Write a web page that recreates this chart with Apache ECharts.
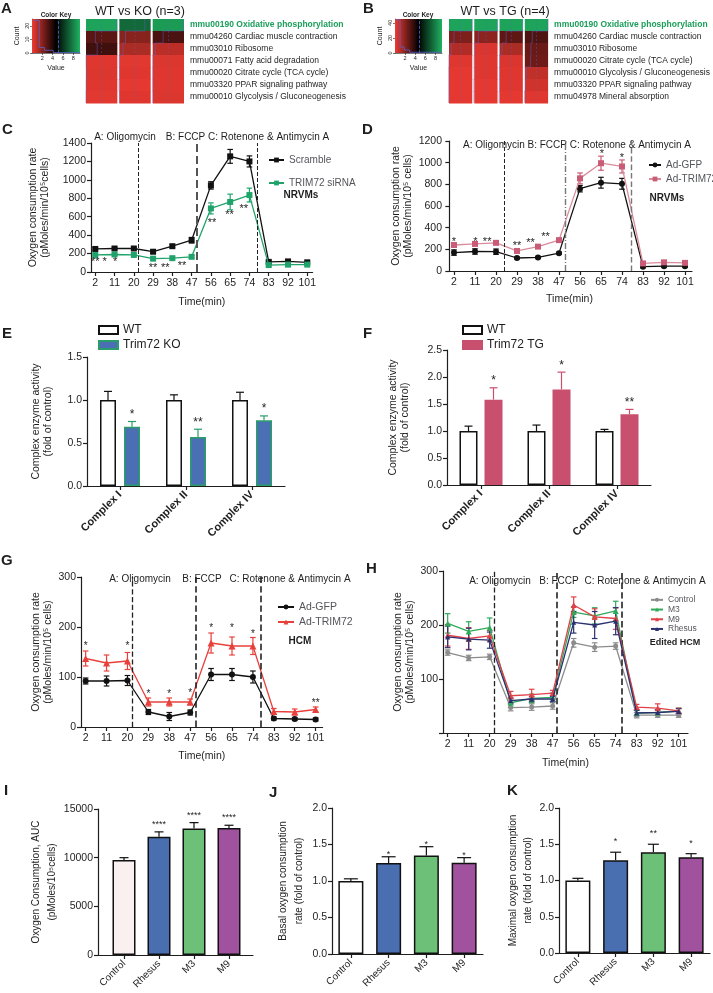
<!DOCTYPE html>
<html><head><meta charset="utf-8">
<script src="https://cdn.jsdelivr.net/npm/echarts@6.0.0/dist/echarts.min.js"></script>
<style>html,body{margin:0;padding:0;background:#fff}#c{width:713px;height:993px}</style>
</head><body><div id="c"></div>
<script>
const FF = '"Liberation Sans", Arial, Helvetica, sans-serif';
// ================= DATA =================
const koPathways = ['mmu00190 Oxidative phosphorylation','mmu04260 Cardiac muscle contraction','mmu03010 Ribosome','mmu00071 Fatty acid degradation','mmu00020 Citrate cycle (TCA cycle)','mmu03320 PPAR signaling pathway','mmu00010 Glycolysis / Gluconeogenesis'];
const koHeat = [[8.9,7.4,8.7],[2.9,2.0,3.2],[3.4,1.3,1.0],[0.3,0.25,0.35],[0.35,0.3,0.3],[0.3,0.2,0.3],[0.25,0.3,0.35]];
const koKeyHist = [[0.3,24],[1.4,24],[1.4,4],[2.4,4],[2.4,2],[4.1,2],[4.1,0.3],[9.3,0.3]];
const tgPathways = ['mmu00190 Oxidative phosphorylation','mmu04260 Cardiac muscle contraction','mmu03010 Ribosome','mmu00020 Citrate cycle (TCA cycle)','mmu00010 Glycolysis / Gluconeogenesis','mmu03320 PPAR signaling pathway','mmu04978 Mineral absorption'];
const tgHeat = [[8.9,8.9,8.9,8.9],[2.2,1.9,2.8,3.1],[1.2,0.4,1.3,2.6],[0.3,0.3,0.4,2.5],[0.2,0.3,0.3,0.9],[0.2,0.2,0.3,0.6],[0.2,0.2,0.2,0.3]];
const tgKeyHist = [[0.2,44],[1.0,44],[1.0,8],[1.8,8],[1.8,4],[2.9,4],[2.9,1],[9.3,1]];

const times = [2,11,20,29,38,47,56,65,74,83,92,101];
// C
const cScramble    = [250,255,255,220,280,345,940,1255,1200,110,115,105];
const cScrambleErr = [15,15,15,10,15,30,40,75,60,15,10,10];
const cSiRNA       = [185,190,185,145,150,165,690,760,835,75,80,80];
const cSiRNAErr    = [10,10,10,10,10,15,60,85,75,10,10,10];
const cInjections  = [22.2,49.2,77.7];
const cStars = [[2,145,'**'],[6.4,145,'*'],[11.3,145,'*'],[29,72,'**'],[34.7,72,'**'],[42.5,101,'**'],[56.5,568,'**'],[64.7,651,'**'],[71.3,712,'**']];
// D
const dGFP      = [170,180,178,120,125,165,760,815,805,40,45,45];
const dGFPErr   = [25,25,25,10,10,10,30,50,50,10,10,10];
const dTRIM     = [240,250,260,185,225,285,855,995,965,70,80,75];
const dTRIMErr  = [20,15,15,10,10,15,50,65,60,10,10,10];
const dInjections = [23.4,49.6,77.9];
const dStars = [[1.9,300,'*'],[11.2,300,'*'],[16.2,300,'**'],[29,255,'**'],[34.8,285,'**'],[41.2,340,'**'],[65.4,1108,'*'],[74,1068,'*']];
// E
const complexes = ['Complex I','Complex II','Complex IV'];
const eWT = [1,1,1], eWTErr = [0.10,0.06,0.09];
const eKO = [0.69,0.57,0.765], eKOErr = [0.06,0.09,0.05];
const eSig = ['*','**','*'];
// F
const fWT = [1,1,1], fWTErr = [0.09,0.11,0.03];
const fTG = [1.58,1.77,1.31], fTGErr = [0.22,0.32,0.09];
const fSig = ['*','*','**'];
// G
const gGFP     = [92,92,93,30,21,29,105,105,100,17,16,15];
const gGFPErr  = [6,10,10,5,8,5,12,12,12,3,3,3];
const gTRIM    = [137,128,132,50,50,50,168,162,162,31,30,35];
const gTRIMErr = [15,16,17,8,8,6,20,18,17,6,6,5];
const gInjections = [22.2,49.4,77.3];
const gStars = [[2,167,'*'],[20,167,'*'],[29,70,'*'],[38,70,'*'],[47,73,'*'],[56,203,'*'],[65,203,'*'],[74,190,'*'],[101,53,'**']];
// H
const hControl = [149,139,141,47,48,50,167,159,161,33,33,33];
const hControlErr = [5,5,5,6,6,6,8,8,6,5,4,4];
const hM3 = [203,188,195,56,64,66,224,217,226,37,38,41];
const hM3Err = [18,18,18,8,8,8,10,15,18,5,5,5];
const hM9 = [181,175,180,69,71,74,237,215,212,48,46,41];
const hM9Err = [20,20,10,8,10,5,15,15,20,5,8,5];
const hRhesus = [178,174,172,60,63,63,205,200,207,37,38,40];
const hRhesusErr = [20,20,15,5,5,5,20,25,25,5,5,5];
const hInjections = [22.1,48.7,76.6];
// I J K
const groups = ['Control','Rhesus','M3','M9'];
const iAUC = [9750,12150,13000,13050], iErr = [250,500,600,280], iSig = ['','****','****','****'];
const jBasal = [1.0,1.247,1.35,1.25], jErr = [0.03,0.085,0.12,0.07], jSig = ['','*','*','*'];
const kMax = [1.0,1.28,1.39,1.32], kErr = [0.03,0.11,0.11,0.05], kSig = ['','*','**','*'];

// ================= HELPERS =================
function merge(a,b){const o=Object.assign({},a);for(const k in b){const bv=b[k],av=a?a[k]:undefined;if(bv&&typeof bv==='object'&&!Array.isArray(bv)&&av&&typeof av==='object'&&!Array.isArray(av)&&bv.constructor===Object)o[k]=merge(av,bv);else o[k]=bv;}return o;}
const INK = '#1e1e1e';
const AX = {
  axisLine:{show:true,lineStyle:{color:INK,width:1.2}},
  axisTick:{show:true,length:4,lineStyle:{color:INK,width:1.2}},
  axisLabel:{color:INK,fontSize:10,fontFamily:FF,margin:5},
  splitLine:{show:false},
  nameTextStyle:{color:INK,fontSize:10.5,fontFamily:FF,lineHeight:12}
};
const axis = o => merge(AX,o);
const grids=[],xAxes=[],yAxes=[],series=[],legends=[],graphics=[];
const G=o=>(grids.push(o),grids.length-1);
const X=o=>(xAxes.push(o),xAxes.length-1);
const Y=o=>(yAxes.push(o),yAxes.length-1);
const S=o=>(series.push(o),series.length-1);
function txt(t,x,y,o){graphics.push({type:'text',x,y,silent:true,style:Object.assign({text:t,fontSize:10,fontFamily:FF,fill:INK,align:'center',verticalAlign:'middle'},o||{})});}

function errRender(color,cap,offset,both,labels,fs,gap){
  return function(params,api){
    const x=api.value(0),lo=api.value(1),hi=api.value(2);
    const a=api.coord([x,lo]),b=api.coord([x,hi]);
    const cx=a[0]+(offset||0);
    const st={stroke:color,lineWidth:1.2};
    const ch=[{type:'line',shape:{x1:cx,y1:a[1],x2:cx,y2:b[1]},style:st},
              {type:'line',shape:{x1:cx-cap,y1:b[1],x2:cx+cap,y2:b[1]},style:st}];
    if(both) ch.push({type:'line',shape:{x1:cx-cap,y1:a[1],x2:cx+cap,y2:a[1]},style:st});
    const lab=labels?labels[params.dataIndex]:'';
    if(lab) ch.push({type:'text',x:cx,y:b[1]-gap+0.27*fs,style:{text:lab,fontSize:fs,fontFamily:FF,fill:INK,align:'center',verticalAlign:'middle'}});
    return {type:'group',children:ch};
  };
}
function starRender(labels,fs){
  return function(params,api){
    const p=api.coord([api.value(0),api.value(1)]);
    return {type:'text',x:p[0],y:p[1]+0.27*fs,style:{text:labels[params.dataIndex],fontSize:fs,fontFamily:FF,fill:INK,align:'center',verticalAlign:'middle'}};
  };
}
const legendFmt = n => n.split('|')[1];

// ---------- heatmap panels ----------
const VMAX=9.3;
const heatColors=['#ee3b33','#000000','#20b262'];
const heatIdx=[];
function heatRender(mat){
  return function(params,api){
    const c=api.value(0),r=api.value(1),v=api.value(2);
    const ctr=api.coord([c,r]),sz=api.size([1,1]);
    const x0=ctr[0]-sz[0]/2,y0=ctr[1]-sz[1]/2,w=sz[0],h=sz[1];
    const tx=x0+v/VMAX*w;
    const px=r>0?x0+mat[r-1][c]/VMAX*w:tx;
    const tr='#5a62cc';
    return {type:'group',children:[
      {type:'rect',shape:{x:x0+1,y:y0,width:w-2,height:h+0.5},style:{fill:api.visual('color')}},
      {type:'line',shape:{x1:ctr[0],y1:y0,x2:ctr[0],y2:y0+h},style:{stroke:tr,lineWidth:0.6,lineDash:[2,2],opacity:0.6}},
      {type:'polyline',shape:{points:[[px,y0],[tx,y0],[tx,y0+h]]},style:{stroke:tr,lineWidth:0.7,fill:null,opacity:0.65}}
    ]};
  };
}
function heatPanel(p){
  const kg=G({left:p.key[0],top:p.key[1],width:p.key[2],height:p.key[3]});
  const kx=X(axis({type:'value',gridIndex:kg,min:0,max:VMAX,interval:2,axisLine:{lineStyle:{width:0.6}},axisTick:{length:2,lineStyle:{width:0.6}},axisLabel:{fontSize:5.5,margin:2,showMinLabel:false,showMaxLabel:false},name:'Value',nameLocation:'middle',nameGap:8,nameTextStyle:{fontSize:7}}));
  const ky=Y(axis({type:'value',gridIndex:kg,min:0,max:p.keyMax,interval:p.keyInt,axisLine:{lineStyle:{width:0.6}},axisTick:{length:2,lineStyle:{width:0.6}},axisLabel:{fontSize:5.5,margin:2,rotate:90,showMaxLabel:false},name:'Count',nameLocation:'middle',nameRotate:90,nameGap:9,nameTextStyle:{fontSize:7}}));
  S({type:'line',xAxisIndex:kx,yAxisIndex:ky,data:[[0,p.keyMax],[VMAX,p.keyMax]],symbol:'none',silent:true,lineStyle:{width:0},
     areaStyle:{opacity:1,color:new echarts.graphic.LinearGradient(0,0,1,0,[{offset:0,color:heatColors[0]},{offset:0.5,color:heatColors[1]},{offset:1,color:heatColors[2]}])}});
  S({type:'line',xAxisIndex:kx,yAxisIndex:ky,data:p.hist,symbol:'none',silent:true,lineStyle:{color:'#5a62cc',width:0.8},
     markLine:{silent:true,symbol:['none','none'],label:{show:false},lineStyle:{color:'#5a62cc',type:'dashed',width:0.8},data:[{xAxis:p.keyMean}]}});
  const hg=G({left:p.heat[0],top:p.heat[1],width:p.heat[2],height:p.heat[3]});
  const cols=p.mat[0].map((_,i)=>'S'+(i+1));
  const hx=X({type:'category',gridIndex:hg,data:cols,show:false});
  const hy=Y({type:'category',gridIndex:hg,data:p.rows,inverse:true,position:'right',axisLine:{show:false},axisTick:{show:false},
    axisLabel:{color:INK,fontSize:8.5,fontFamily:FF,margin:5,formatter:(v,i)=>i===0?'{g|'+v+'}':v,rich:{g:{color:'#1a9e5a',fontWeight:'bold',fontSize:8.5,fontFamily:FF}}}});
  const data=[];p.mat.forEach((row,r)=>row.forEach((v,c)=>data.push([c,r,v])));
  heatIdx.push(S({type:'custom',xAxisIndex:hx,yAxisIndex:hy,data,encode:{x:0,y:1},renderItem:heatRender(p.mat),silent:true}));
}
heatPanel({key:[32,19,48,34],keyMax:25,keyInt:10,keyMean:5.0,hist:koKeyHist,heat:[85,19,100,84],mat:koHeat,rows:koPathways});
heatPanel({key:[395,19,47,34],keyMax:45,keyInt:20,keyMean:4.8,hist:tgKeyHist,heat:[448,19,104,84],mat:tgHeat,rows:tgPathways});

// ---------- time course panels ----------
function timePanel(p){
  const gi=G(p.grid);
  const xi=X(axis({type:'value',gridIndex:gi,min:p.xmin,max:p.xmax,axisTick:{customValues:times},axisLabel:{customValues:times,fontSize:10.5,margin:p.xMargin||6},name:'Time(min)',nameLocation:'middle',nameGap:p.xNameGap}));
  const yi=Y(axis({type:'value',gridIndex:gi,min:0,max:p.ymax,interval:p.yint,name:p.yName,nameLocation:'middle',nameRotate:90,nameGap:p.yNameGap,axisLabel:{fontSize:10.5,formatter:p.yFmt||(v=>String(v))}}));
  const names=[];
  p.lines.forEach((L,k)=>{
    names.push(L.name);
    S({type:'custom',xAxisIndex:xi,yAxisIndex:yi,data:times.map((t,i)=>[t,L.v[i]-L.e[i],L.v[i]+L.e[i]]),encode:{x:0,y:[1,2]},renderItem:errRender(L.ec||L.color,2.8,0,true),z:2,silent:true});
    S({type:'line',name:L.name,xAxisIndex:xi,yAxisIndex:yi,data:times.map((t,i)=>[t,L.v[i]]),symbol:L.sym,symbolSize:L.ss,
       itemStyle:{color:L.color},lineStyle:{color:L.lc||L.color,width:1.3},z:3+k,silent:true,
       markLine:k===0?{silent:true,symbol:['none','none'],label:{show:false},data:p.inj.map((v,i)=>({xAxis:v,lineStyle:Object.assign({type:'dashed',color:'#222',width:1},(p.injStyle||[])[i]||{})}))}:undefined});
  });
  if(p.stars) S({type:'custom',xAxisIndex:xi,yAxisIndex:yi,data:p.stars.map(s=>[s[0],s[1]]),encode:{x:0,y:1},renderItem:starRender(p.stars.map(s=>s[2]),p.starFs),clip:false,z:6,silent:true});
  legends.push(Object.assign({orient:'vertical',data:names,formatter:legendFmt,selectedMode:false,padding:0,textStyle:{color:INK,fontFamily:FF,fontSize:10}},p.legend));
}
const oxyName='Oxygen consumption rate\n(pMoles/min/10\u2075cells)';
timePanel({grid:{left:91,top:143,width:221.6,height:129},xmin:0,xmax:103.5,ymax:1400,yint:200,yName:oxyName,yNameGap:40,xNameGap:24,
  inj:cInjections,injStyle:[{},{width:2,color:'#555'},{}],stars:cStars,starFs:11,
  lines:[{name:'C|Scramble',v:cScramble,e:cScrambleErr,color:'#111',sym:'rect',ss:6},
         {name:'C|TRIM72 siRNA',v:cSiRNA,e:cSiRNAErr,color:'#1fa36b',sym:'rect',ss:6}],
  legend:{left:268,top:154,itemWidth:15,itemHeight:6,itemGap:11,textStyle:{fontSize:10,lineHeight:12}}});
timePanel({grid:{left:447,top:141,width:245,height:130},xmin:-1,xmax:104,ymax:1200,yint:200,yName:'Oxygen consumption rate\n(pMoles/min/10\u2075 cells)',yNameGap:33,xNameGap:22,
  inj:dInjections,injStyle:[{},{color:'#777',type:[6,2,1,2],width:1.4},{color:'#777',width:1.4}],stars:dStars,starFs:11,
  lines:[{name:'D|Ad-GFP',v:dGFP,e:dGFPErr,color:'#111',sym:'circle',ss:6},
         {name:'D|Ad-TRIM72',v:dTRIM,e:dTRIMErr,color:'#c95c77',lc:'#d98c9c',sym:'rect',ss:6}],
  legend:{left:648,top:159,itemWidth:12,itemHeight:6,itemGap:2,textStyle:{fontSize:10,lineHeight:12}}});
timePanel({grid:{left:81,top:577,width:241.6,height:150},xmin:0,xmax:104,ymax:300,yint:100,yName:'Oxygen consumption rate\n(pMoles/min/10\u2075 cells)',yNameGap:24,xNameGap:23,
  inj:gInjections,injStyle:[{width:1.3},{width:1.6},{width:1.6}],stars:gStars,starFs:10,
  lines:[{name:'G|Ad-GFP',v:gGFP,e:gGFPErr,color:'#111',sym:'circle',ss:6},
         {name:'G|Ad-TRIM72',v:gTRIM,e:gTRIMErr,color:'#e8413c',sym:'triangle',ss:7}],
  legend:{left:277,top:601,itemWidth:16,itemHeight:6,itemGap:3,textStyle:{fontSize:10.5,lineHeight:12}}});
timePanel({grid:{left:443,top:571,width:245,height:162},xmin:0,xmax:105,ymax:300,yint:100,yName:'Oxygen consumption rate\n(pMoles/min/10\u2075 cells)',yNameGap:27,xNameGap:24,
  yFmt:v=>v===0?'':String(v),inj:hInjections,injStyle:[{width:1.3},{width:1.6},{width:1.6}],
  lines:[{name:'H|Control',v:hControl,e:hControlErr,color:'#8c8c8c',sym:'circle',ss:5},
         {name:'H|M3',v:hM3,e:hM3Err,color:'#2fa95a',sym:'triangle',ss:6},
         {name:'H|M9',v:hM9,e:hM9Err,color:'#e04048',sym:'triangle',ss:6},
         {name:'H|Rhesus',v:hRhesus,e:hRhesusErr,color:'#2b3170',sym:'triangle',ss:5}],
  legend:{left:650,top:595,itemWidth:12,itemHeight:5,itemGap:0,textStyle:{fontSize:8.5,lineHeight:9.7}}});

// ---------- grouped bar panels ----------
function groupedPanel(p){
  const gi=G(p.grid);
  const xi=X(axis({type:'category',gridIndex:gi,data:complexes,axisTick:{alignWithLabel:true},axisLabel:{rotate:45,fontWeight:'bold',fontSize:11,margin:7}}));
  const yi=Y(axis({type:'value',gridIndex:gi,min:0,max:p.ymax,interval:0.5,name:'Complex enzyme activity\n(fold of control)',nameLocation:'middle',nameRotate:90,nameGap:p.yNameGap,axisLabel:{fontSize:10.5,formatter:v=>v.toFixed(1)}}));
  const names=[];
  p.bars.forEach((B,k)=>{
    names.push(B.name);
    S({type:'bar',name:B.name,xAxisIndex:xi,yAxisIndex:yi,data:B.v,barWidth:p.bw,barGap:p.gap,itemStyle:{color:B.color,borderColor:B.border,borderWidth:1.5},silent:true,z:2});
    S({type:'custom',xAxisIndex:xi,yAxisIndex:yi,data:B.v.map((v,i)=>[i,v,v+B.e[i]]),encode:{x:0,y:[1,2]},renderItem:errRender(B.ec,4,B.off,false,B.sig,12,10),clip:false,z:3,silent:true});
  });
  legends.push(Object.assign({orient:'vertical',data:names,formatter:legendFmt,selectedMode:false,padding:0,icon:'rect',itemWidth:19,itemHeight:8,itemGap:0,textStyle:{color:INK,fontFamily:FF,fontSize:12,lineHeight:15}},p.legend));
}
groupedPanel({grid:{left:87,top:357,width:198,height:129},ymax:1.5,yNameGap:33,bw:16,gap:'50%',
  bars:[{name:'E|WT',v:eWT,e:eWTErr,color:'#fff',border:'#111',ec:'#111',off:-12},
        {name:'E|Trim72 KO',v:eKO,e:eKOErr,color:'#4a6fb5',border:'#2a9d6a',ec:'#2a9d6a',off:12,sig:eSig}],
  legend:{left:98,top:322.5}});
groupedPanel({grid:{left:447,top:350,width:204,height:135},ymax:2.5,yNameGap:36,bw:18,gap:'39%',
  bars:[{name:'F|WT',v:fWT,e:fWTErr,color:'#fff',border:'#111',ec:'#111',off:-12.5},
        {name:'F|Trim72 TG',v:fTG,e:fTGErr,color:'#c8506e',border:'#c8506e',ec:'#c8506e',off:12.5,sig:fSig}],
  legend:{left:462,top:322.5}});

// ---------- I J K ----------
const barColorsI=['#fbf0f0','#4a6fb0','#6cc077','#a0529e'];
const barColorsJK=['#ffffff','#4a6fb0','#6cc077','#a0529e'];
function simpleBars(p){
  const gi=G(p.grid);
  let xi;
  if(p.valueX){
    xi=X(axis({type:'value',gridIndex:gi,min:p.xmin,max:p.xmax,axisTick:{customValues:[1,2,3,4]},axisLabel:{customValues:[1,2,3,4],rotate:45,fontSize:10,margin:7,formatter:v=>groups[Math.round(v)-1]}}));
  } else {
    xi=X(axis({type:'category',gridIndex:gi,data:groups,axisTick:{alignWithLabel:true},axisLabel:{rotate:45,fontSize:10,margin:7}}));
  }
  const yi=Y(axis({type:'value',gridIndex:gi,min:0,max:p.ymax,interval:p.yint,name:p.yName,nameLocation:'middle',nameRotate:90,nameGap:p.yNameGap,axisLabel:{fontSize:10.5,formatter:p.yFmt||(v=>String(v))},nameTextStyle:{fontSize:10,lineHeight:p.nameLH||12}}));
  const pos=i=>p.valueX?i+1:i;
  S({type:'bar',xAxisIndex:xi,yAxisIndex:yi,barWidth:p.bw,silent:true,
     data:p.v.map((v,i)=>({value:[pos(i),v],itemStyle:{color:p.colors[i],borderColor:'#111',borderWidth:1.5}}))});
  S({type:'custom',xAxisIndex:xi,yAxisIndex:yi,data:p.v.map((v,i)=>[pos(i),v,v+p.e[i]]),encode:{x:0,y:[1,2]},renderItem:errRender('#111',p.cap,0,false,p.sig,p.starFs,p.starGap),clip:false,z:3,silent:true});
}
simpleBars({grid:{left:98,top:809,width:155,height:146},valueX:true,xmin:0.257,xmax:4.686,ymax:15000,yint:5000,bw:23,v:iAUC,e:iErr,sig:iSig,colors:barColorsI,cap:4.5,starFs:9,starGap:10,
  yName:'Oxygen Consumption, AUC\n(pMoles/10\u2075cells)',yNameGap:31,nameLH:16});
simpleBars({grid:{left:332,top:808,width:151,height:146},ymax:2.0,yint:0.5,bw:25,v:jBasal,e:jErr,sig:jSig,colors:barColorsJK,cap:7,starFs:9,starGap:5,yFmt:v=>v.toFixed(1),
  yName:'Basal oxygen consumption\nrate (fold of control)',yNameGap:25,nameLH:16});
simpleBars({grid:{left:559,top:808,width:151,height:145},ymax:2.0,yint:0.5,bw:25,v:kMax,e:kErr,sig:kSig,colors:barColorsJK,cap:5.5,starFs:9,starGap:13,yFmt:v=>v.toFixed(1),
  yName:'Maximal oxygen consumption\nrate (fold of control)',yNameGap:23,nameLH:15});

// ---------- texts ----------
const L={fontSize:15,fontWeight:'bold',align:'left',verticalAlign:'top'};
[['A',1,1],['B',363,1],['C',2,122],['D',362,122],['E',2,326],['F',363,326],['G',1,553],['H',366,561],['I',4,783],['J',269,785],['K',507,783]].forEach(a=>txt(a[0],a[1],a[2],L));
txt('WT vs KO (n=3)',140,12,{fontSize:12.5});
txt('WT vs TG (n=4)',505,12,{fontSize:12.5});
txt('Color Key',56,15,{fontSize:6.5,fontWeight:'bold'});
txt('Color Key',418,15,{fontSize:6.5,fontWeight:'bold'});
txt('A: Oligomycin',125,137);
txt('B: FCCP C: Rotenone & Antimycin A',247.5,137);
txt('NRVMs',301,195,{fontWeight:'bold'});
txt('A: Oligomycin B: FCCP C: Rotenone & Antimycin A',577,145);
txt('NRVMs',667,198,{fontWeight:'bold'});
txt('A: Oligomycin',140,579);
txt('B: FCCP',202,579);
txt('C: Rotenone & Antimycin A',290,579);
txt('HCM',300,641,{fontWeight:'bold'});
txt('A: Oligomycin',500,581);
txt('B: FCCP',559,581);
txt('C: Rotenone & Antimycin A',645,581);
txt('Edited HCM',675,643,{fontWeight:'bold',fontSize:9});

const chart=echarts.init(document.getElementById('c'),null,{renderer:'canvas'});
chart.setOption({
  animation:false,backgroundColor:'#fff',textStyle:{fontFamily:FF},
  grid:grids,xAxis:xAxes,yAxis:yAxes,series:series,legend:legends,graphic:graphics,
  visualMap:[{type:'continuous',show:false,min:0,max:VMAX,dimension:2,seriesIndex:heatIdx,inRange:{color:heatColors}}]
});
</script></body></html>
